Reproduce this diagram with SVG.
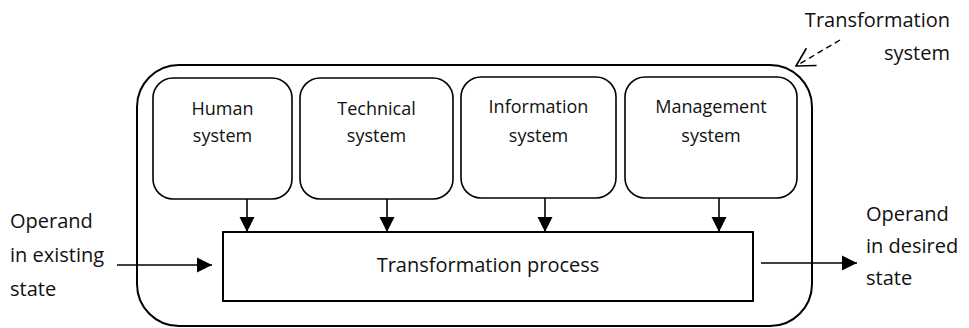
<svg xmlns="http://www.w3.org/2000/svg" width="969" height="328" viewBox="0 0 969 328">
  <style>
    .frame { fill: none; stroke: #000; stroke-width: 2; }
    .sub { fill: #fff; stroke: #000; stroke-width: 1.6; }
    .proc { fill: #fff; stroke: #000; stroke-width: 2; }
    .lbl { font-family: "Open Sans", "Liberation Sans", sans-serif; font-size: 18px; fill: #111; text-anchor: middle; }
    .big { font-family: "Open Sans", "Liberation Sans", sans-serif; font-size: 20px; fill: #111; }
    .flow { fill: none; stroke: #000; stroke-width: 1.6; }
    .hint { fill: none; stroke: #000; stroke-width: 1.4; stroke-dasharray: 6 4; }
  </style>
  <defs>
    <marker id="solid" markerUnits="userSpaceOnUse" markerWidth="16" markerHeight="16" viewBox="0 0 16 16" refX="15" refY="8" orient="auto">
      <path d="M0,0.5 L15,8 L0,15.5 Z" fill="#000"/>
    </marker>
    <marker id="open" markerUnits="userSpaceOnUse" markerWidth="22" markerHeight="22" viewBox="0 0 22 22" refX="21" refY="11" orient="auto">
      <path d="M3,1 L21,11 L3,21" fill="none" stroke="#000" stroke-width="1.6"/>
    </marker>
  </defs>

  <!-- enclosing transformation system -->
  <g id="transformation-system">
    <rect class="frame" x="137" y="65" width="675" height="261" rx="42" ry="42"/>
  </g>

  <g id="human-system">
    <rect class="sub" x="153" y="78" width="139" height="121" rx="20" ry="20"/>
    <text class="lbl" x="222.5" y="115">Human</text>
    <text class="lbl" x="222.5" y="142">system</text>
  </g>

  <g id="technical-system">
    <rect class="sub" x="300" y="78" width="153" height="121" rx="20" ry="20"/>
    <text class="lbl" x="376.5" y="115">Technical</text>
    <text class="lbl" x="376.5" y="142">system</text>
  </g>

  <g id="information-system">
    <rect class="sub" x="461" y="77" width="155" height="121" rx="20" ry="20"/>
    <text class="lbl" x="538.5" y="113">Information</text>
    <text class="lbl" x="538.5" y="142">system</text>
  </g>

  <g id="management-system">
    <rect class="sub" x="625" y="77" width="172" height="121" rx="20" ry="20"/>
    <text class="lbl" x="711" y="113">Management</text>
    <text class="lbl" x="711" y="142">system</text>
  </g>

  <g id="transformation-process">
    <rect class="proc" x="223" y="232" width="530" height="69"/>
    <text class="big" x="488" y="272" text-anchor="middle">Transformation process</text>
  </g>

  <g id="operand-in">
    <text class="big" x="10" y="228">Operand</text>
    <text class="big" x="10" y="262">in existing</text>
    <text class="big" x="10" y="296">state</text>
  </g>

  <g id="operand-out">
    <text class="big" x="866" y="221">Operand</text>
    <text class="big" x="866" y="253">in desired</text>
    <text class="big" x="866" y="285">state</text>
  </g>

  <g id="system-label">
    <text class="big" x="950" y="27" text-anchor="end">Transformation</text>
    <text class="big" x="950" y="60" text-anchor="end">system</text>
  </g>

  <!-- connectors -->
  <g id="connectors">
    <line class="flow" x1="247" y1="199" x2="247" y2="232" marker-end="url(#solid)"/>
    <line class="flow" x1="387" y1="199" x2="387" y2="232" marker-end="url(#solid)"/>
    <line class="flow" x1="545" y1="198" x2="545" y2="232" marker-end="url(#solid)"/>
    <line class="flow" x1="719" y1="198" x2="719" y2="232" marker-end="url(#solid)"/>
    <line class="flow" x1="117" y1="265" x2="212" y2="265" marker-end="url(#solid)"/>
    <line class="flow" x1="761" y1="263" x2="857" y2="263" marker-end="url(#solid)"/>
    <line class="hint" x1="840" y1="40" x2="796" y2="66" marker-end="url(#open)"/>
  </g>
</svg>
